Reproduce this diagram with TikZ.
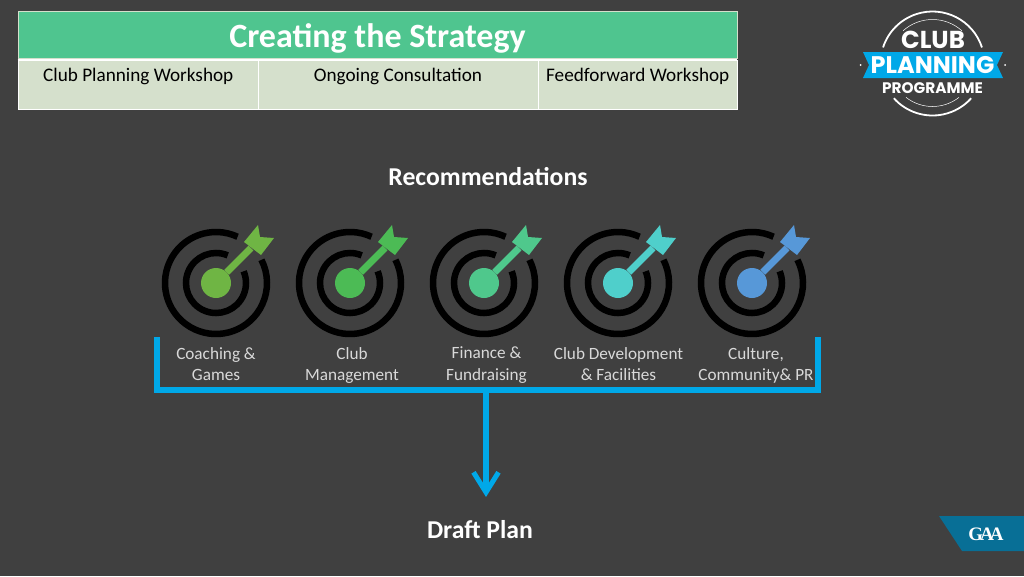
\documentclass[tikz,border=0pt]{standalone}
\usepackage{fontspec}
\setmainfont{Carlito}
\newfontfamily\logofont{Poppins}
\newfontfamily\gaafont{Liberation Serif}
\usetikzlibrary{arrows.meta,calc}
\definecolor{slidebg}{HTML}{404040}
\definecolor{tablegreen}{HTML}{4FC58F}
\definecolor{cellgreen}{HTML}{D5E0CC}
\definecolor{linkblue}{HTML}{00A8E8}
\definecolor{gaablue}{HTML}{086F96}
\definecolor{dartA}{HTML}{6FB544}
\definecolor{dartB}{HTML}{4CBB55}
\definecolor{dartC}{HTML}{4FC88C}
\definecolor{dartD}{HTML}{4FCFCB}
\definecolor{dartE}{HTML}{5798D8}
\tikzset{
    headbox/.style={fill=tablegreen, draw=cellgreen, line width=1pt, inner sep=0pt, minimum width=719pt, minimum height=47pt, text=white, text height=25pt, text depth=0pt, font=\fontsize{34}{38}\selectfont\bfseries},
    cellbox/.style={fill=cellgreen, draw=white, line width=1pt, inner sep=0pt, anchor=north west, minimum height=49pt, text=black, text height=21pt, text depth=28pt, font=\fontsize{19.2}{23}\selectfont},
    titletext/.style={text=white, font=\fontsize{25.7}{30}\selectfont\bfseries},
    dartlabel/.style={text=black!15, align=center, execute at end node=\strut, font=\fontsize{17.2}{21.5}\selectfont},
    ring/.style={line width=6.5pt, draw=black},
    dartdot/.style={circle, inner sep=0pt, minimum size=30pt},
    link/.style={draw=linkblue, line width=6pt},
    logoring/.style={draw=white, line width=1.8pt},
    logothin/.style={draw=white, line width=0.5pt}
}
\begin{document}
\begin{tikzpicture}[x=1pt,y=-1pt]
    \useasboundingbox[fill=slidebg] (0,0) rectangle (1024,576);

    % Strategy table
    \node[headbox] (head) at (377.5,34.5) {Creating the Strategy};
    \draw[white, line width=2.5pt] (head.south west) ++(0,-1.5pt) -- ++(719pt,0);
    \node[cellbox, minimum width=239.5pt] (cellA) at (18,60) {Club Planning Workshop};
    \node[cellbox, minimum width=280pt] (cellB) at (257.5,60) {Ongoing Consultation};
    \node[cellbox, minimum width=199.5pt] (cellC) at (537.5,60) {Feedforward Workshop};

    % Logo
    \coordinate (logo) at (932.5,63.5);
    \draw[logoring] (logo) ++(18:52pt) arc[start angle=18, end angle=162, radius=52pt];
    \draw[logoring] (logo) ++(222:52pt) arc[start angle=222, end angle=318, radius=52pt];
    \draw[logothin] (logo) ++(48:44pt) arc[start angle=48, end angle=132, radius=44pt];
    \draw[logothin] (logo) ++(232:43pt) arc[start angle=232, end angle=308, radius=43pt];
    \fill[linkblue] (863,52) -- (1003,52) -- (997,65) -- (1003,78) -- (863,78) -- (869,65) -- cycle;
    \fill[white] (860.5,65) circle (1pt) (1005,65) circle (1pt);
    \node[text=white, inner sep=0pt, font=\logofont\fontsize{24.5}{25}\selectfont\bfseries] (logoClub) at (933,39.5) {CLUB};
    \node[text=white, inner sep=0pt, font=\logofont\fontsize{24}{24}\selectfont\bfseries] (logoPlan) at (932.5,65) {PLANNING};
    \node[text=white, inner sep=0pt, font=\logofont\fontsize{15.3}{16}\selectfont\bfseries] (logoProg) at (932.5,88) {PROGRAMME};

    % Recommendations
    \node[titletext] (recs) at (488,177) {Recommendations};
    \foreach \n/\cx/\lx/\col/\txt in {A/216/216/dartA/{Coaching \&\\Games}, B/350/352/dartB/{Club\\Management}, C/484/486.5/dartC/{Finance \&\\Fundraising}, D/618/618.5/dartD/{Club Development\\\& Facilities}, E/752/756/dartE/{Culture,\\Community\& PR}}
    {
        \begin{scope}[shift={(\cx,283)}]
            \draw[ring] (65:51pt) arc[start angle=65, end angle=387, radius=51pt];
            \draw[ring] (67:30pt) arc[start angle=67, end angle=383, radius=30pt];
            \node[dartdot, fill=\col] (dot\n) at (0,0) {};
            \coordinate (tail\n) at (35pt,35pt);
            \draw[\col, line width=7pt] (dot\n) -- (tail\n);
            \fill[\col] (28pt,41pt) -- (42pt,58pt) -- (44pt,46pt) -- (58pt,45pt) -- (45pt,28pt) -- cycle;
        \end{scope}
        \node[dartlabel] (label\n) at (\lx,367) {\txt};
    }

    % Bracket and arrow
    \coordinate (barL) at (157,337);
    \coordinate (barR) at (818,337);
    \coordinate (barmid) at (486,390);
    \coordinate (arrowend) at (486,497);
    \draw[link, line join=miter] (barL) |- (barmid) -| (barR);
    \draw[link, -{Straight Barb[length=20pt,width=25pt,line width=5pt]}] (barmid) -- (arrowend);
    \node[titletext] (draft) at (480,530) {Draft Plan};

    % GAA tab
    \fill[gaablue] (939,516) -- (1024,516) -- (1024,551) -- (962,551) -- cycle;
    \node[text=white, inner sep=0pt, font=\gaafont\fontsize{19}{19}\selectfont\bfseries] (gaa) at (986,534) {G\kern-3pt A\kern-4pt A};
\end{tikzpicture}
\end{document}
